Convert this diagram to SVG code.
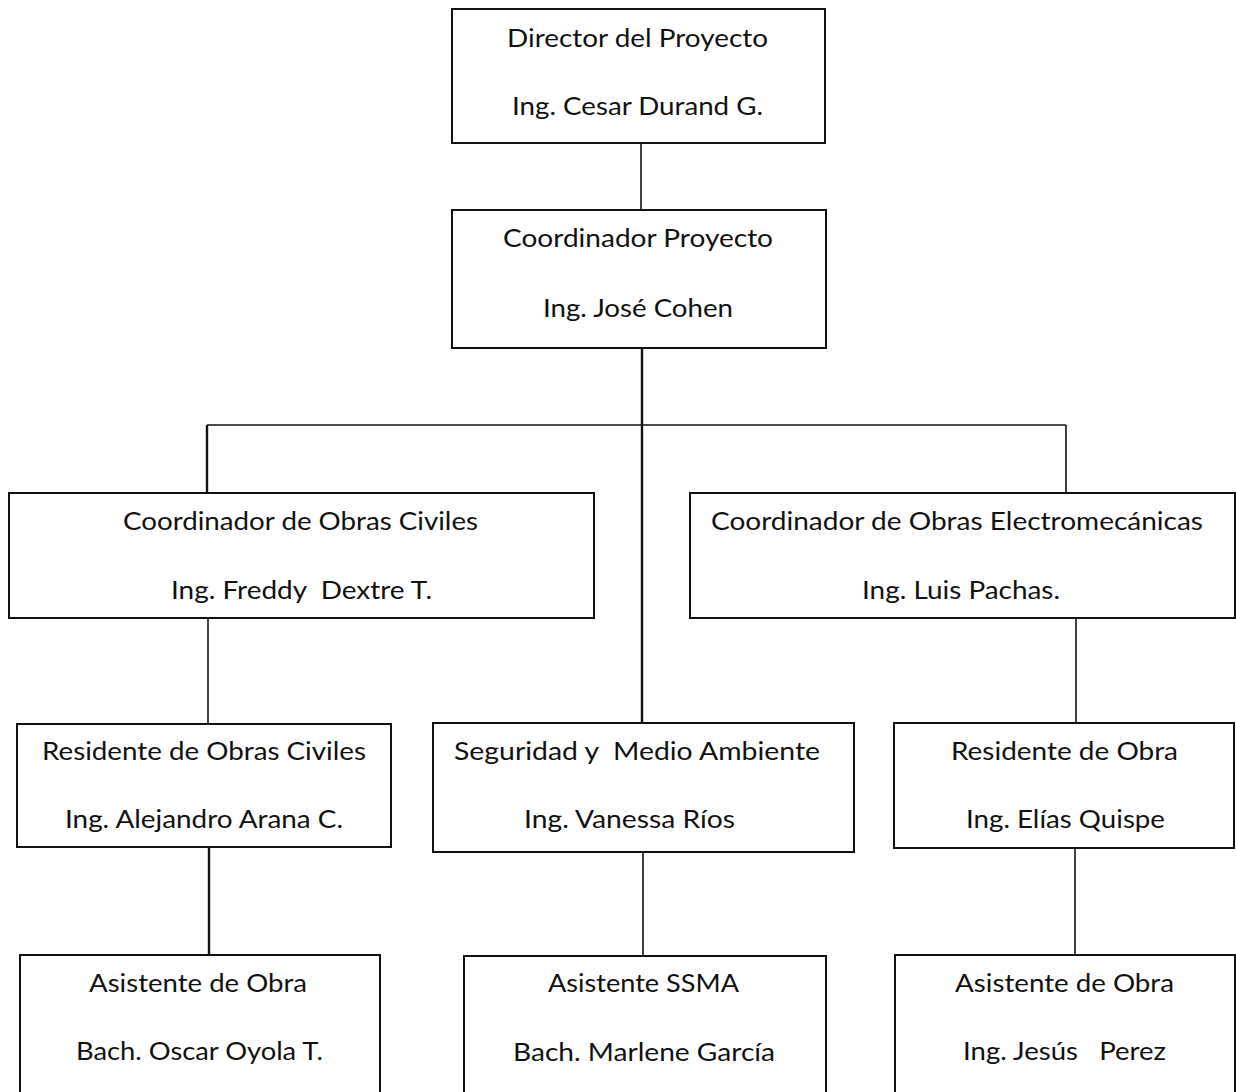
<svg xmlns="http://www.w3.org/2000/svg" width="1236" height="1092" viewBox="0 0 1236 1092">
  <style>
    .box { fill: #ffffff; stroke: #111111; stroke-width: 2; }
    .lbl { font-family: Lato, "Open Sans", "Liberation Sans", sans-serif; font-size: 25px; fill: #111111; white-space: pre; }
    .wire { stroke: #111111; fill: none; stroke-width: 1.6; }
    .wire.heavy { stroke-width: 2.4; }
  </style>
  <rect width="1236" height="1092" fill="#ffffff"/>

  <!-- reporting lines -->
  <g id="connectors">
    <line class="wire" x1="641" y1="143" x2="641" y2="210"/>
    <line class="wire heavy" x1="642" y1="348" x2="642" y2="723"/>
    <line class="wire" x1="207" y1="425" x2="1066" y2="425"/>
    <line class="wire heavy" x1="207" y1="425" x2="207" y2="493"/>
    <line class="wire" x1="1066" y1="425" x2="1066" y2="493"/>
    <line class="wire" x1="208" y1="618" x2="208" y2="724"/>
    <line class="wire" x1="1076" y1="618" x2="1076" y2="723"/>
    <line class="wire heavy" x1="209" y1="847" x2="209" y2="955"/>
    <line class="wire" x1="643" y1="852" x2="643" y2="956"/>
    <line class="wire" x1="1075" y1="848" x2="1075" y2="955"/>
  </g>

  <g id="director">
    <rect class="box" x="452" y="9" width="373" height="134"/>
    <text class="lbl" x="507" y="47" textLength="261" lengthAdjust="spacingAndGlyphs">Director del Proyecto</text>
    <text class="lbl" x="512" y="115" textLength="251" lengthAdjust="spacingAndGlyphs">Ing. Cesar Durand G.</text>
  </g>

  <g id="coordinador-proyecto">
    <rect class="box" x="452" y="210" width="374" height="138"/>
    <text class="lbl" x="503" y="247" textLength="270" lengthAdjust="spacingAndGlyphs">Coordinador Proyecto</text>
    <text class="lbl" x="543" y="317" textLength="190" lengthAdjust="spacingAndGlyphs">Ing. José Cohen</text>
  </g>

  <g id="coordinador-civiles">
    <rect class="box" x="9" y="493" width="585" height="125"/>
    <text class="lbl" x="123" y="530" textLength="355" lengthAdjust="spacingAndGlyphs">Coordinador de Obras Civiles</text>
    <text class="lbl" x="171" y="599" textLength="261" lengthAdjust="spacingAndGlyphs">Ing. Freddy  Dextre T.</text>
  </g>

  <g id="coordinador-electromecanicas">
    <rect class="box" x="690" y="493" width="545" height="125"/>
    <text class="lbl" x="711" y="530" textLength="492" lengthAdjust="spacingAndGlyphs">Coordinador de Obras Electromecánicas</text>
    <text class="lbl" x="862" y="599" textLength="198" lengthAdjust="spacingAndGlyphs">Ing. Luis Pachas.</text>
  </g>

  <g id="residente-civiles">
    <rect class="box" x="17" y="724" width="374" height="123"/>
    <text class="lbl" x="42" y="760" textLength="324" lengthAdjust="spacingAndGlyphs">Residente de Obras Civiles</text>
    <text class="lbl" x="65" y="828" textLength="278" lengthAdjust="spacingAndGlyphs">Ing. Alejandro Arana C.</text>
  </g>

  <g id="seguridad">
    <rect class="box" x="433" y="723" width="421" height="129"/>
    <text class="lbl" x="454" y="760" textLength="366" lengthAdjust="spacingAndGlyphs">Seguridad y  Medio Ambiente</text>
    <text class="lbl" x="524" y="828" textLength="211" lengthAdjust="spacingAndGlyphs">Ing. Vanessa Ríos</text>
  </g>

  <g id="residente-obra">
    <rect class="box" x="894" y="723" width="340" height="125"/>
    <text class="lbl" x="951" y="760" textLength="227" lengthAdjust="spacingAndGlyphs">Residente de Obra</text>
    <text class="lbl" x="966" y="828" textLength="199" lengthAdjust="spacingAndGlyphs">Ing. Elías Quispe</text>
  </g>

  <g id="asistente-civiles">
    <rect class="box" x="20" y="955" width="360" height="150"/>
    <text class="lbl" x="89" y="992" textLength="218" lengthAdjust="spacingAndGlyphs">Asistente de Obra</text>
    <text class="lbl" x="76" y="1060" textLength="247" lengthAdjust="spacingAndGlyphs">Bach. Oscar Oyola T.</text>
  </g>

  <g id="asistente-ssma">
    <rect class="box" x="464" y="956" width="362" height="150"/>
    <text class="lbl" x="548" y="992" textLength="191" lengthAdjust="spacingAndGlyphs">Asistente SSMA</text>
    <text class="lbl" x="513" y="1061" textLength="262" lengthAdjust="spacingAndGlyphs">Bach. Marlene García</text>
  </g>

  <g id="asistente-obra">
    <rect class="box" x="895" y="955" width="340" height="150"/>
    <text class="lbl" x="955" y="992" textLength="219" lengthAdjust="spacingAndGlyphs">Asistente de Obra</text>
    <text class="lbl" x="963" y="1060" textLength="203" lengthAdjust="spacingAndGlyphs">Ing. Jesús   Perez</text>
  </g>
</svg>
